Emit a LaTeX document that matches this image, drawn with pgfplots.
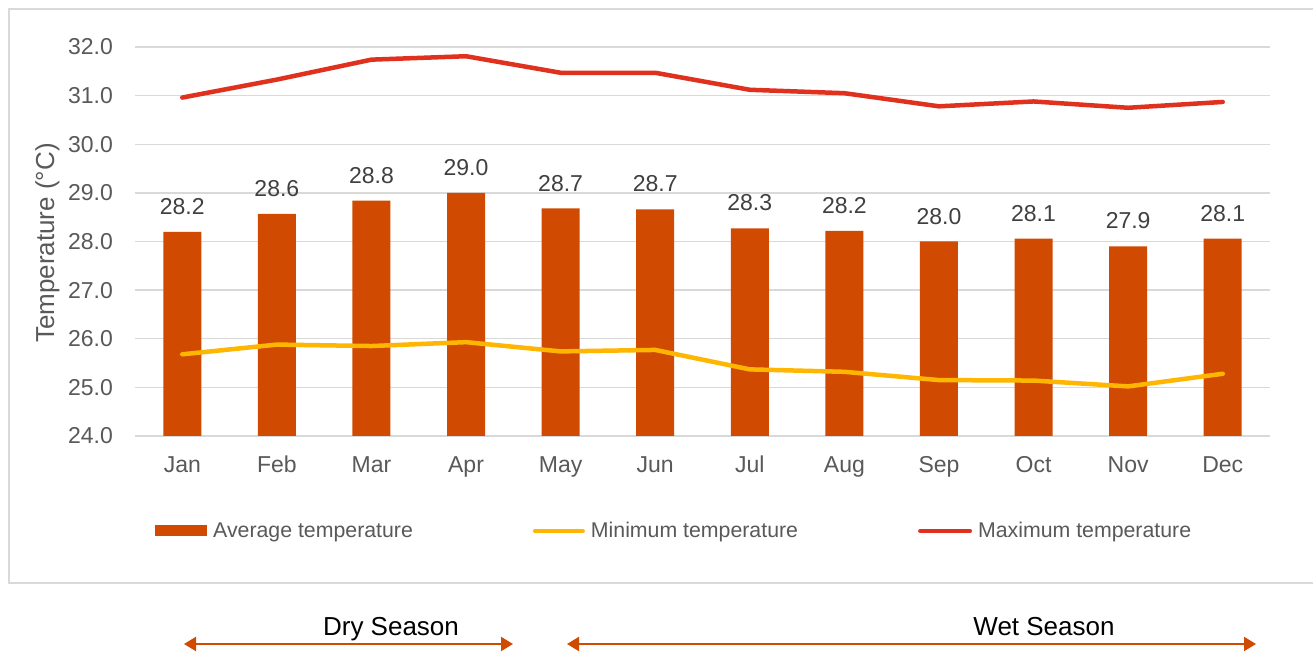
\documentclass[border=0pt]{standalone}
\usepackage{pgfplots}
\pgfplotsset{compat=1.18}
\usepackage{fontspec}
\setmainfont{Liberation Sans}
\usetikzlibrary{arrows.meta}
\definecolor{barc}{HTML}{D04A02}
\definecolor{minc}{HTML}{FFB600}
\definecolor{maxc}{HTML}{E0301E}
\definecolor{gridc}{HTML}{D9D9D9}
\definecolor{txt}{HTML}{595959}
\definecolor{lbl}{HTML}{404040}
\begin{document}
\begin{tikzpicture}[x=1pt,y=1pt]
\path[use as bounding box] (0,0) rectangle (1313,652);
\fill[white] (0,0) rectangle (1313,652);
\draw[gridc, line width=1.5pt] (1340,643) -- (9,643) -- (9,69) -- (1340,69);
\begin{axis}[
  at={(135pt,216pt)}, anchor=south west,
  scale only axis, width=1135pt, height=389pt,
  xmin=-0.5, xmax=11.5, ymin=24, ymax=32,
  ytick={24,25,...,32},
  xtick={0,...,11},
  xticklabels={Jan,Feb,Mar,Apr,May,Jun,Jul,Aug,Sep,Oct,Nov,Dec},
  ymajorgrids, grid style={gridc, line width=1.3pt},
  axis line style={draw=none},
  major tick length=0pt,
  /pgf/number format/assume math mode=true,
  tick label style={font=\fontsize{23}{27}\selectfont, text=txt},
  yticklabel style={/pgf/number format/.cd, fixed, fixed zerofill, precision=1, /tikz/.cd, inner sep=0pt, xshift=-22pt},
  xticklabel style={inner sep=0pt, yshift=-20pt},
  ylabel={Temperature (°C)},
  ylabel style={font=\fontsize{26}{30}\selectfont, text=txt, at={(rel axis cs:-0.0881,0.496)}, anchor=north, inner sep=0pt},
  legend columns=3,
  legend style={at={(0.0150,-0.2442)}, anchor=west, draw=none, fill=none,
    font=\fontsize{21.3}{25}\selectfont, text=txt,
    /tikz/every odd column/.append style={column sep=4pt},
    /tikz/every even column/.append style={column sep=118pt}},
  legend cell align=left,
]
\addplot[ybar, bar width=38pt, fill=barc, draw=none,
  nodes near coords,
  nodes near coords style={font=\fontsize{23}{27}\selectfont, text=lbl, anchor=south, inner sep=0pt, yshift=17pt,
    /pgf/number format/.cd, fixed, fixed zerofill, precision=1},
  legend image code/.code={\fill[barc] (0pt,-5.5pt) rectangle (52pt,5.5pt);}]
coordinates {(0,28.2) (1,28.57) (2,28.84) (3,29.0) (4,28.68) (5,28.66) (6,28.27) (7,28.22) (8,28.0) (9,28.06) (10,27.9) (11,28.06)};
\addlegendentry{Average temperature}
\addplot[minc, line width=4.5pt, line join=round, line cap=round,
  legend image code/.code={\draw[minc, line width=4.5pt, line cap=round] (2.25pt,0pt) -- (49.75pt,0pt);}]
coordinates {(0,25.68) (1,25.88) (2,25.85) (3,25.93) (4,25.74) (5,25.77) (6,25.37) (7,25.32) (8,25.15) (9,25.14) (10,25.02) (11,25.28)};
\addlegendentry{Minimum temperature}
\addplot[maxc, line width=4.5pt, line join=round, line cap=round,
  legend image code/.code={\draw[maxc, line width=4.5pt, line cap=round] (2.25pt,0pt) -- (51.75pt,0pt);}]
coordinates {(0,30.96) (1,31.33) (2,31.74) (3,31.81) (4,31.47) (5,31.47) (6,31.12) (7,31.05) (8,30.78) (9,30.88) (10,30.75) (11,30.87)};
\addlegendentry{Maximum temperature}
\end{axis}
\draw[barc, line width=2pt, {Triangle[length=12pt,width=14pt]}-{Triangle[length=12pt,width=14pt]}] (184,8) -- (513,8);
\draw[barc, line width=2pt, {Triangle[length=12pt,width=14pt]}-{Triangle[length=12pt,width=14pt]}] (567,8) -- (1256,8);
\node[anchor=base, inner sep=0pt, font=\fontsize{26}{30}\selectfont] at (391,16) {Dry Season};
\node[anchor=base, inner sep=0pt, font=\fontsize{26}{30}\selectfont] at (1044,16) {Wet Season};
\end{tikzpicture}
\end{document}
